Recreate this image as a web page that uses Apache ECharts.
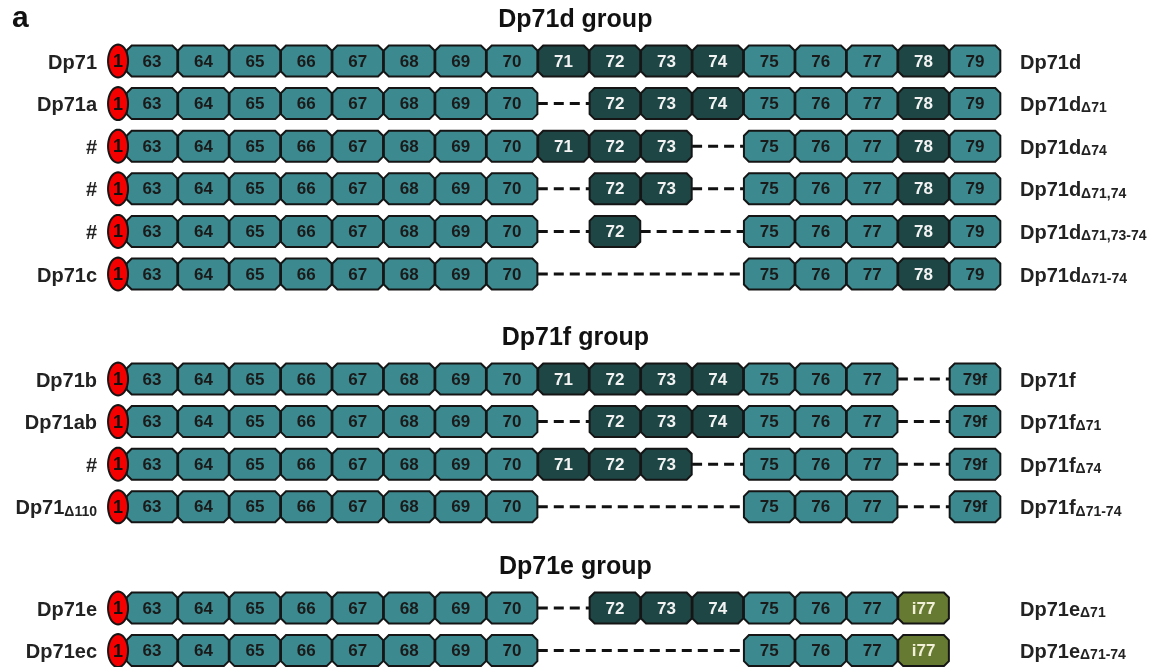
<!DOCTYPE html>
<html>
<head>
<meta charset="utf-8">
<script src="https://cdn.jsdelivr.net/npm/echarts@6/dist/echarts.min.js"></script>
<style>
  html, body { margin: 0; padding: 0; background: #ffffff; }
  #chart { width: 1173px; height: 667px; }
</style>
</head>
<body>
<div id="chart"></div>
<script>
// ---- Transcript structures (exon 1 plus the 3' exons 63-79) ----
const panelLetter = 'a';
const groupTitles = ['Dp71d group', 'Dp71f group', 'Dp71e group'];
const rowGroup = [0, 0, 0, 0, 0, 0, 1, 1, 1, 1, 2, 2];

// left-hand names: [main text, subscript]
const leftNames = [
  ['Dp71', ''], ['Dp71a', ''], ['#', ''], ['#', ''], ['#', ''], ['Dp71c', ''],
  ['Dp71b', ''], ['Dp71ab', ''], ['#', ''], ['Dp71', 'Δ110'],
  ['Dp71e', ''], ['Dp71ec', '']
];
// right-hand names: [main text, subscript]
const rightNames = [
  ['Dp71d', ''], ['Dp71d', 'Δ71'], ['Dp71d', 'Δ74'], ['Dp71d', 'Δ71,74'],
  ['Dp71d', 'Δ71,73-74'], ['Dp71d', 'Δ71-74'],
  ['Dp71f', ''], ['Dp71f', 'Δ71'], ['Dp71f', 'Δ74'], ['Dp71f', 'Δ71-74'],
  ['Dp71e', 'Δ71'], ['Dp71e', 'Δ71-74']
];
// exons present in each transcript
const rowExons = [
  ['63','64','65','66','67','68','69','70','71','72','73','74','75','76','77','78','79'],
  ['63','64','65','66','67','68','69','70','72','73','74','75','76','77','78','79'],
  ['63','64','65','66','67','68','69','70','71','72','73','75','76','77','78','79'],
  ['63','64','65','66','67','68','69','70','72','73','75','76','77','78','79'],
  ['63','64','65','66','67','68','69','70','72','75','76','77','78','79'],
  ['63','64','65','66','67','68','69','70','75','76','77','78','79'],
  ['63','64','65','66','67','68','69','70','71','72','73','74','75','76','77','79f'],
  ['63','64','65','66','67','68','69','70','72','73','74','75','76','77','79f'],
  ['63','64','65','66','67','68','69','70','71','72','73','75','76','77','79f'],
  ['63','64','65','66','67','68','69','70','75','76','77','79f'],
  ['63','64','65','66','67','68','69','70','72','73','74','75','76','77','i77'],
  ['63','64','65','66','67','68','69','70','75','76','77','i77']
];
const darkExons = ['71', '72', '73', '74', '78'];
const intronicExons = ['i77'];

// ---- layout ----
const titleY = [20, 338, 567];
const rowPitch = 42.6;
const firstRowOffset = 41;
const COLORS = {
  light: '#3c8a8f', dark: '#1e4645', olive: '#677a31',
  stroke: '#151515', red: '#f50000', text: '#1a1a1a'
};
const FONT = '"Liberation Sans", Arial, sans-serif';

function slotOf(name) {
  if (name === 'i77') return 78;
  return parseInt(name, 10);
}

// vertical position of each row
const rowY = [];
(function () {
  const counts = [0, 0, 0];
  rowGroup.forEach(function (g) {
    rowY.push(titleY[g] + firstRowOffset + counts[g] * rowPitch);
    counts[g]++;
  });
})();

// exon boxes
const exonData = [];
rowExons.forEach(function (list, r) {
  list.forEach(function (name) {
    exonData.push([slotOf(name), rowY[r], name]);
  });
});

// dashed links across skipped exons
const linkData = [];
rowExons.forEach(function (list, r) {
  for (let i = 1; i < list.length; i++) {
    const a = slotOf(list[i - 1]), b = slotOf(list[i]);
    if (b - a > 1) linkData.push([a, b, rowY[r]]);
  }
});

const ovalData = rowY.map(function (y) { return [63, y]; });
const leftData = rowY.map(function (y, r) { return [63, y, r]; });
const rightData = rowY.map(function (y, r) { return [79, y, r]; });
const titleData = groupTitles.map(function (t, g) { return [71, titleY[g], t]; });

function richLabel(pair) {
  return pair[1] ? '{m|' + pair[0] + '}{s|' + pair[1] + '}' : '{m|' + pair[0] + '}';
}
const labelRich = {
  m: { fontSize: 20, fontWeight: 'bold', fontFamily: FONT, fill: '#222', lineHeight: 22, verticalAlign: 'bottom' },
  s: { fontSize: 14, fontWeight: 'bold', fontFamily: FONT, fill: '#222', lineHeight: 18, verticalAlign: 'bottom' }
};

const chart = echarts.init(document.getElementById('chart'), null, { renderer: 'canvas' });

chart.setOption({
  animation: false,
  backgroundColor: '#ffffff',
  grid: { left: 152, right: 198, top: 0, bottom: 0 },
  xAxis: { type: 'value', min: 63, max: 79, show: false },
  yAxis: { type: 'value', min: 0, max: 667, inverse: true, show: false },
  graphic: [{
    type: 'text', left: 12, top: 4,
    style: { text: panelLetter, font: 'bold 30px ' + FONT, fill: '#111' }
  }],
  series: [
    {
      // dashed connectors
      type: 'custom', clip: false, data: linkData,
      renderItem: function (params, api) {
        const pitch = api.size([1, 0])[0];
        const p1 = api.coord([api.value(0), api.value(2)]);
        const p2 = api.coord([api.value(1), api.value(2)]);
        return {
          type: 'line',
          shape: { x1: p1[0] + pitch / 2, y1: p1[1], x2: p2[0] - pitch / 2, y2: p2[1] },
          style: { stroke: '#111', lineWidth: 3, lineDash: [10, 6] }
        };
      }
    },
    {
      // exon boxes
      type: 'custom', clip: false, data: exonData,
      renderItem: function (params, api) {
        const name = exonData[params.dataIndex][2];
        const c = api.coord([api.value(0), api.value(1)]);
        const pitch = api.size([1, 0])[0];
        const w = pitch - 0.8, h = 31, k = 5;
        const x0 = c[0] - w / 2, x1 = c[0] + w / 2, y0 = c[1] - h / 2, y1 = c[1] + h / 2;
        let fill = COLORS.light, tc = COLORS.text;
        if (darkExons.indexOf(name) >= 0) { fill = COLORS.dark; tc = '#f3f3f3'; }
        if (intronicExons.indexOf(name) >= 0) { fill = COLORS.olive; tc = '#f2f0d8'; }
        return {
          type: 'group',
          children: [
            {
              type: 'polygon',
              shape: { points: [[x0 + k, y0], [x1 - k, y0], [x1, y0 + k], [x1, y1 - k],
                                [x1 - k, y1], [x0 + k, y1], [x0, y1 - k], [x0, y0 + k]] },
              style: { fill: fill, stroke: COLORS.stroke, lineWidth: 2 }
            },
            {
              type: 'text',
              style: { text: name, x: c[0], y: c[1] + 1, align: 'center', verticalAlign: 'middle',
                       font: 'bold 17px ' + FONT, fill: tc }
            }
          ]
        };
      }
    },
    {
      // exon 1 (promoter) ovals
      type: 'custom', clip: false, data: ovalData,
      renderItem: function (params, api) {
        const c = api.coord([api.value(0), api.value(1)]);
        const pitch = api.size([1, 0])[0];
        const cx = c[0] - pitch * 0.66, cy = c[1];
        const rx = 10, ry = 16.5, pts = [];
        for (let i = 0; i < 48; i++) {
          const t = i / 48 * Math.PI * 2;
          pts.push([cx + rx * Math.cos(t), cy + ry * Math.sin(t)]);
        }
        return {
          type: 'group',
          children: [
            { type: 'polygon', shape: { points: pts },
              style: { fill: COLORS.red, stroke: COLORS.stroke, lineWidth: 2 } },
            { type: 'text', style: { text: '1', x: cx, y: cy + 1, align: 'center', verticalAlign: 'middle',
                                      font: 'bold 18px ' + FONT, fill: '#111' } }
          ]
        };
      }
    },
    {
      // left-hand transcript names
      type: 'custom', clip: false, data: leftData,
      renderItem: function (params, api) {
        const c = api.coord([api.value(0), api.value(1)]);
        return {
          type: 'text',
          style: { text: richLabel(leftNames[params.dataIndex]), rich: labelRich,
                   x: c[0] - 55, y: c[1] + 1, align: 'right', verticalAlign: 'middle' }
        };
      }
    },
    {
      // right-hand transcript names
      type: 'custom', clip: false, data: rightData,
      renderItem: function (params, api) {
        const c = api.coord([api.value(0), api.value(1)]);
        return {
          type: 'text',
          style: { text: richLabel(rightNames[params.dataIndex]), rich: labelRich,
                   x: c[0] + 45, y: c[1] + 1, align: 'left', verticalAlign: 'middle' }
        };
      }
    },
    {
      // group headings
      type: 'custom', clip: false, data: titleData,
      renderItem: function (params, api) {
        const c = api.coord([api.value(0) + 0.23, api.value(1)]);
        return {
          type: 'text',
          style: { text: titleData[params.dataIndex][2], x: c[0], y: c[1], align: 'center',
                   verticalAlign: 'middle', font: 'bold 25px ' + FONT, fill: '#111' }
        };
      }
    }
  ]
});
</script>
</body>
</html>
